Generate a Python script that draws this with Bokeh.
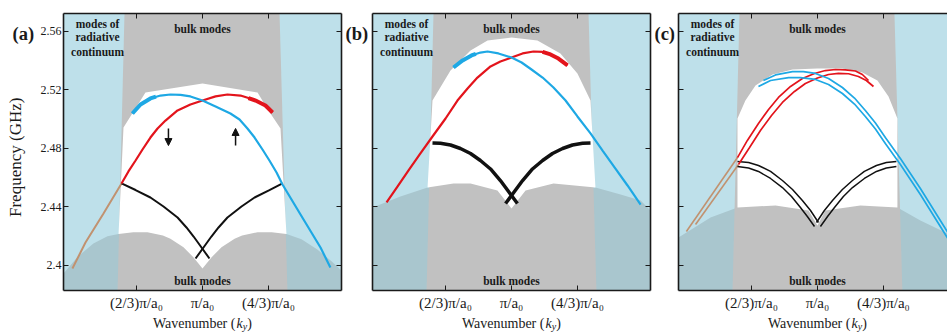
import math
from bokeh.plotting import figure
from bokeh.models import (Range1d, FixedTicker, CustomJSTickFormatter, LinearAxis,
                          Label, Arrow, NormalHead)
from bokeh.layouts import row, column
from bokeh.embed import file_html
from bokeh.resources import INLINE

# ---------------- axes ----------------
K_RANGE = (0.298, 1.702)          # wavenumber in units of pi/a0
K_RANGE_C = (0.298, 1.657)        # panel (c) is cut at the page edge
F_RANGE = (2.3829, 2.5723)        # GHz
x_ticks = [2 / 3, 1.0, 4 / 3]
x_tick_labels = ["(2/3)π/a₀", "π/a₀", "(4/3)π/a₀"]
y_ticks = [2.40, 2.44, 2.48, 2.52, 2.56]
y_tick_labels = ["2.4", "2.44", "2.48", "2.52", "2.56"]

# projected bulk band (gray) edges, shared by all panels
band_f = [2.5723, 2.3829]
band_left_k = [0.606, 0.571]
band_right_k = [1.389, 1.429]

# ---------------- panel (a) ----------------
hill_a_k = [0.298, 0.37, 0.449, 0.52, 0.576, 0.65, 0.722, 0.80, 0.838, 0.904, 0.955, 1.0,
            1.045, 1.096, 1.162, 1.20, 1.278, 1.35, 1.424, 1.50, 1.58, 1.65, 1.702]
hill_a_f = [2.3945, 2.406, 2.415, 2.420, 2.4215, 2.4228, 2.4228, 2.4205, 2.4183, 2.4125, 2.4055, 2.3979,
            2.4055, 2.4125, 2.4183, 2.4205, 2.4228, 2.4228, 2.4215, 2.418, 2.411, 2.403, 2.3966]
gap_a_top_k = [0.601, 0.712, 1.0, 1.278, 1.333, 1.394]
gap_a_top_f = [2.4944, 2.5183, 2.5244, 2.5183, 2.5060, 2.4937]

brown_a_k = [0.343, 0.409, 0.500, 0.591]
brown_a_f = [2.3979, 2.4157, 2.4356, 2.4561]
red_a_k = [0.591, 0.626, 0.662, 0.697, 0.737, 0.773, 0.813, 0.874, 0.939, 1.0, 1.066, 1.126, 1.192,
           1.232, 1.268, 1.318, 1.354]
red_a_f = [2.4561, 2.4643, 2.4718, 2.4793, 2.4875, 2.4937, 2.4991, 2.5060, 2.5101, 2.5128, 2.5156, 2.5169,
           2.5162, 2.5145, 2.5128, 2.5094, 2.5046]
red_a_thick_k = [1.232, 1.268, 1.318, 1.354]
red_a_thick_f = [2.5145, 2.5128, 2.5094, 2.5046]
blue_a_k = [0.646, 0.687, 0.737, 0.788, 0.838, 0.889, 0.939, 1.0, 1.066, 1.141, 1.187, 1.227, 1.263,
            1.303, 1.338, 1.374, 1.404, 1.495, 1.596, 1.646]
blue_a_f = [2.5039, 2.5101, 2.5142, 2.5162, 2.5169, 2.5166, 2.5156, 2.5128, 2.5087, 2.5039, 2.4998, 2.4937,
            2.4875, 2.4793, 2.4718, 2.4636, 2.4554, 2.4349, 2.4123, 2.3986]
blue_a_thick_k = [0.646, 0.687, 0.737, 0.765]
blue_a_thick_f = [2.5039, 2.5101, 2.5142, 2.5155]
black_a1_k = [0.591, 0.662, 0.737, 0.803, 0.874, 0.919, 0.955, 0.995, 1.035]
black_a1_f = [2.4561, 2.4516, 2.4465, 2.4403, 2.4328, 2.4260, 2.4198, 2.4123, 2.4048]
black_a2_k = [1.404, 1.338, 1.263, 1.197, 1.126, 1.081, 1.045, 1.005, 0.965]
black_a2_f = [2.4561, 2.4516, 2.4465, 2.4403, 2.4328, 2.4260, 2.4198, 2.4123, 2.4048]
arrow_k = [0.828, 1.167]
arrow_f_from = [2.4937, 2.4820]
arrow_f_to = [2.4820, 2.4937]

# ---------------- panel (b) ----------------
hill_b_k = [0.298, 0.439, 0.576, 0.707, 0.793, 0.929, 1.0, 1.071, 1.212, 1.424, 1.551, 1.652, 1.702]
hill_b_f = [2.4397, 2.4472, 2.4533, 2.4561, 2.4561, 2.4513, 2.4390, 2.4513, 2.4561, 2.4533, 2.4485, 2.4444, 2.4376]
gap_b_top_k = [0.601, 0.692, 0.793, 0.879, 1.0, 1.131, 1.247, 1.333, 1.399]
gap_b_top_f = [2.5128, 2.5333, 2.5470, 2.5538, 2.5559, 2.5538, 2.5450, 2.5313, 2.5128]

red_b_k = [0.369, 0.424, 0.480, 0.540, 0.601, 0.667, 0.727, 0.778, 0.828, 0.894, 0.944, 1.0, 1.056,
           1.111, 1.157, 1.197, 1.237, 1.283]
red_b_f = [2.4431, 2.4540, 2.4650, 2.4766, 2.4882, 2.5005, 2.5128, 2.5210, 2.5285, 2.5361, 2.5395, 2.5422,
           2.5450, 2.5463, 2.5460, 2.5443, 2.5415, 2.5368]
red_b_thick_k = [1.157, 1.197, 1.237, 1.283]
red_b_thick_f = [2.5460, 2.5443, 2.5415, 2.5368]
blue_b_k = [0.707, 0.753, 0.798, 0.843, 0.879, 0.934, 1.0, 1.051, 1.101, 1.157, 1.212, 1.273, 1.333,
            1.399, 1.460, 1.525, 1.586, 1.652]
blue_b_f = [2.5354, 2.5402, 2.5436, 2.5456, 2.5463, 2.5450, 2.5422, 2.5388, 2.5340, 2.5285, 2.5217, 2.5128,
            2.5019, 2.4903, 2.4786, 2.4663, 2.4547, 2.4417]
blue_b_thick_k = [0.707, 0.753, 0.798, 0.82]
blue_b_thick_f = [2.5354, 2.5402, 2.5436, 2.5447]
black_b1_k = [0.601, 0.641, 0.692, 0.742, 0.793, 0.843, 0.894, 0.944, 0.985, 1.030]
black_b1_f = [2.4838, 2.4836, 2.4824, 2.4800, 2.4766, 2.4718, 2.4660, 2.4581, 2.4506, 2.4424]
black_b2_k = [1.399, 1.359, 1.308, 1.258, 1.207, 1.157, 1.106, 1.056, 1.015, 0.970]
black_b2_f = [2.4838, 2.4836, 2.4824, 2.4800, 2.4766, 2.4718, 2.4660, 2.4581, 2.4506, 2.4424]

# ---------------- panel (c) ----------------
hill_c_k = [0.298, 0.460, 0.596, 0.788, 0.955, 1.0, 1.040, 1.217, 1.404, 1.520, 1.657, 1.702]
hill_c_f = [2.4191, 2.4328, 2.4397, 2.4410, 2.4376, 2.4274, 2.4376, 2.4410, 2.4397, 2.4308, 2.4219, 2.4185]
gap_c_top_k = [0.596, 0.636, 0.687, 0.773, 0.874, 1.0, 1.126, 1.227, 1.303, 1.359, 1.404]
gap_c_top_f = [2.5005, 2.5128, 2.5231, 2.5306, 2.5340, 2.5347, 2.5347, 2.5320, 2.5265, 2.5156, 2.5005]

brown_c1_k = [0.338, 0.596]
brown_c1_f = [2.4232, 2.4738]
brown_c2_k = [0.384, 0.601]
brown_c2_f = [2.4280, 2.4691]
red_c1_k = [0.596, 0.646, 0.702, 0.753, 0.803, 0.864, 0.924, 0.985, 1.040, 1.091, 1.141, 1.192, 1.227, 1.258]
red_c1_f = [2.4738, 2.4855, 2.4971, 2.5067, 2.5149, 2.5224, 2.5279, 2.5313, 2.5333, 2.5340, 2.5338, 2.5330,
            2.5306, 2.5265]
red_c2_k = [0.601, 0.657, 0.712, 0.768, 0.823, 0.884, 0.939, 1.0, 1.056, 1.106, 1.157, 1.207, 1.247, 1.283]
red_c2_f = [2.4691, 2.4807, 2.4923, 2.5026, 2.5115, 2.5190, 2.5244, 2.5282, 2.5306, 2.5313, 2.5311, 2.5292,
            2.5265, 2.5224]
blue_c1_k = [0.727, 0.788, 0.874, 0.929, 0.990, 1.056, 1.126, 1.187, 1.242, 1.293, 1.343, 1.419, 1.520,
             1.646, 1.722]
blue_c1_f = [2.5265, 2.5303, 2.5326, 2.5326, 2.5313, 2.5279, 2.5217, 2.5145, 2.5060, 2.4974, 2.4875, 2.4732,
             2.4526, 2.4253, 2.4089]
blue_c2_k = [0.702, 0.763, 0.854, 0.914, 0.990, 1.056, 1.126, 1.187, 1.242, 1.293, 1.343, 1.419, 1.520,
             1.646, 1.722]
blue_c2_f = [2.5224, 2.5265, 2.5285, 2.5285, 2.5272, 2.5238, 2.5176, 2.5104, 2.5019, 2.4933, 2.4834, 2.4691,
             2.4485, 2.4212, 2.4048]
black_c1_k = [0.596, 0.652, 0.702, 0.763, 0.823, 0.874, 0.924, 0.965, 1.005]
black_c1_f = [2.4711, 2.4704, 2.4684, 2.4643, 2.4581, 2.4520, 2.4444, 2.4376, 2.4294]
black_c2_k = [0.596, 0.652, 0.702, 0.763, 0.823, 0.869, 0.914, 0.949, 0.985]
black_c2_f = [2.4677, 2.4667, 2.4643, 2.4595, 2.4533, 2.4472, 2.4397, 2.4335, 2.4267]
black_c3_k = [1.399, 1.348, 1.298, 1.237, 1.177, 1.126, 1.076, 1.035, 0.995]
black_c3_f = [2.4711, 2.4704, 2.4684, 2.4643, 2.4581, 2.4520, 2.4444, 2.4376, 2.4294]
black_c4_k = [1.399, 1.348, 1.298, 1.237, 1.177, 1.131, 1.086, 1.051, 1.015]
black_c4_f = [2.4677, 2.4667, 2.4643, 2.4595, 2.4533, 2.4472, 2.4397, 2.4335, 2.4267]

# text positions (data units)
rad_text = ["modes of", "radiative", "continuum"]
rad_text_k = 0.47
rad_text_f = [2.5648, 2.5559, 2.5463]
bulk_top_f = 2.5614
bulk_bot_f = 2.3897

# ---------------- styles / layout ----------------
SKY = "#bee0ea"
GRAY = "#c1c1c1"
OVER = "#a9c6ce"
RED = "#e3141c"
BLUE = "#1ea8e4"
BROWN = "#c19270"
BLACK = "#111111"
INK = "#1a1a1a"
SERIF = "Liberation Serif"
FRAME_H = 277
TOP_B = 13
BOT_B = 24
ROW_H = TOP_B + FRAME_H + BOT_B      # 314
XT_H = 332 - ROW_H                   # strip for the x titles
PAGE_W = 947
panel_centers_px = [202, 511, 817]   # where k = pi/a0 sits on the page

FMT_CODE = ("for (let i = 0; i < tvals.length; i++) { if (Math.abs(tick - tvals[i]) < 1e-6) return tlabs[i]; } "
            "return '';")


def style_axis(ax, show_labels, size="14px"):
    ax.major_tick_in = 5
    ax.major_tick_out = 0
    ax.minor_tick_in = 0
    ax.minor_tick_out = 0
    ax.minor_tick_line_color = None
    ax.axis_line_width = 1.6
    ax.axis_line_color = INK
    ax.major_tick_line_color = INK
    ax.major_tick_line_width = 1
    if show_labels:
        ax.major_label_text_font = SERIF
        ax.major_label_text_font_size = size
        ax.major_label_text_color = INK
    else:
        ax.formatter = CustomJSTickFormatter(code="return '';")
        ax.major_label_text_font_size = "1px"
        ax.major_label_standoff = 0


def text_strip(width, height):
    """A blank figure whose data units are page pixels (y up), used only to hold texts."""
    s = figure(width=width, height=height, x_range=Range1d(0, width), y_range=Range1d(0, height),
               output_backend="svg", toolbar_location=None, x_axis_type=None, y_axis_type=None,
               min_border=0, outline_line_color=None, background_fill_color="white",
               border_fill_color="white")
    s.grid.visible = False
    return s


def make_panel(frame_w, left, right, xr, first, has_right):
    p = figure(frame_width=frame_w, frame_height=FRAME_H, x_range=Range1d(*xr), y_range=Range1d(*F_RANGE),
               output_backend="svg", toolbar_location=None, min_border_left=left, min_border_right=right,
               min_border_top=TOP_B, min_border_bottom=BOT_B, background_fill_color=SKY,
               outline_line_color=None, border_fill_color="white")
    p.grid.visible = False
    p.xaxis.ticker = FixedTicker(ticks=x_ticks)
    p.xaxis.formatter = CustomJSTickFormatter(args=dict(tvals=x_ticks, tlabs=x_tick_labels), code=FMT_CODE)
    style_axis(p.xaxis[0], True, "15px")
    p.xaxis.major_label_standoff = 4
    p.yaxis.ticker = FixedTicker(ticks=y_ticks)
    if first:
        p.yaxis.formatter = CustomJSTickFormatter(args=dict(tvals=y_ticks, tlabs=y_tick_labels), code=FMT_CODE)
    style_axis(p.yaxis[0], first, "12px")
    if first:
        p.yaxis.major_label_standoff = 2
    top = LinearAxis(ticker=FixedTicker(ticks=x_ticks))
    style_axis(top, False)
    p.add_layout(top, "above")
    if has_right:
        r = LinearAxis(ticker=FixedTicker(ticks=y_ticks))
        style_axis(r, False)
        p.add_layout(r, "right")
    return p


def backgrounds(p, hill_k, hill_f, gap_k, gap_f):
    p.varea(x=hill_k, y1=F_RANGE[0] - 0.01, y2=hill_f, fill_color=OVER)
    p.patch(x=band_left_k + band_right_k[::-1], y=band_f + band_f[::-1], fill_color=GRAY, line_color=None)
    bot = [(k, f) for k, f in zip(hill_k, hill_f) if 0.57 <= k <= 1.43]
    xs = gap_k + [k for k, f in bot[::-1]]
    ys = gap_f + [f for k, f in bot[::-1]]
    p.patch(x=xs, y=ys, fill_color="white", line_color=None)


def texts(p):
    for t, f in zip(rad_text, rad_text_f):
        p.add_layout(Label(x=rad_text_k, y=f, text=t, text_font=SERIF, text_font_style="bold",
                           text_font_size="11.5px", text_align="center", text_baseline="middle", text_color=INK))
    for f in (bulk_top_f, bulk_bot_f):
        p.add_layout(Label(x=1.0, y=f, text="bulk modes", text_font=SERIF, text_font_style="bold",
                           text_font_size="11.5px", text_align="center", text_baseline="middle", text_color=INK))


def letter(strip, text, x_px):
    strip.add_layout(Label(x=x_px, y=ROW_H - TOP_B + 1, text=text, text_font=SERIF, text_font_style="bold",
                           text_font_size="18.5px", text_baseline="top", text_align="left", text_color=INK))


# ---------------- (a) ----------------
sa = text_strip(35, ROW_H)
letter(sa, "(a)", 12)
sa.add_layout(Label(x=15, y=ROW_H - 163, angle=math.pi / 2, text="Frequency (GHz)", text_font=SERIF,
                    text_font_size="17px", text_align="center", text_baseline="middle", text_color=INK))
pa = make_panel(278, 28, 4, K_RANGE, True, True)
backgrounds(pa, hill_a_k, hill_a_f, gap_a_top_k, gap_a_top_f)
pa.line(brown_a_k, brown_a_f, line_color=BROWN, line_width=2)
pa.line(black_a1_k, black_a1_f, line_color=BLACK, line_width=2)
pa.line(black_a2_k, black_a2_f, line_color=BLACK, line_width=2)
pa.line(red_a_k, red_a_f, line_color=RED, line_width=2.2)
pa.line(red_a_thick_k, red_a_thick_f, line_color=RED, line_width=4)
pa.line(blue_a_k, blue_a_f, line_color=BLUE, line_width=2.2)
pa.line(blue_a_thick_k, blue_a_thick_f, line_color=BLUE, line_width=4)
for k, f0, f1 in zip(arrow_k, arrow_f_from, arrow_f_to):
    pa.add_layout(Arrow(end=NormalHead(size=7, fill_color=BLACK, line_color=BLACK),
                        x_start=k, y_start=f0, x_end=k, y_end=f1, line_width=1.5, line_color=BLACK))
texts(pa)

# ---------------- (b) ----------------
sb = text_strip(23, ROW_H)
letter(sb, "(b)", 0)
pb = make_panel(278, 4, 4, K_RANGE, False, True)
backgrounds(pb, hill_b_k, hill_b_f, gap_b_top_k, gap_b_top_f)
pb.line(black_b1_k, black_b1_f, line_color=BLACK, line_width=3.5)
pb.line(black_b2_k, black_b2_f, line_color=BLACK, line_width=3.5)
pb.line(red_b_k, red_b_f, line_color=RED, line_width=2.2)
pb.line(red_b_thick_k, red_b_thick_f, line_color=RED, line_width=4)
pb.line(blue_b_k, blue_b_f, line_color=BLUE, line_width=2.2)
pb.line(blue_b_thick_k, blue_b_thick_f, line_color=BLUE, line_width=4)
texts(pb)

# ---------------- (c) ----------------
sc = text_strip(21, ROW_H)
letter(sc, "(c)", 0)
pc = make_panel(269, 3, 0, K_RANGE_C, False, False)
backgrounds(pc, hill_c_k, hill_c_f, gap_c_top_k, gap_c_top_f)
for kk, ff in ((brown_c1_k, brown_c1_f), (brown_c2_k, brown_c2_f)):
    pc.line(kk, ff, line_color=BROWN, line_width=1.6)
for kk, ff in ((black_c1_k, black_c1_f), (black_c2_k, black_c2_f), (black_c3_k, black_c3_f), (black_c4_k, black_c4_f)):
    pc.line(kk, ff, line_color=BLACK, line_width=1.5)
for kk, ff in ((red_c1_k, red_c1_f), (red_c2_k, red_c2_f)):
    pc.line(kk, ff, line_color=RED, line_width=1.7)
for kk, ff in ((blue_c1_k, blue_c1_f), (blue_c2_k, blue_c2_f)):
    pc.line(kk, ff, line_color=BLUE, line_width=1.7)
texts(pc)

# ---------------- x titles "Wavenumber (k_y)" ----------------
xt = text_strip(PAGE_W, XT_H)
base_y = XT_H - 9
for cx in panel_centers_px:
    xt.add_layout(Label(x=cx - 49.5, y=base_y, text="Wavenumber (", text_font=SERIF, text_font_size="14px",
                        text_baseline="alphabetic", text_align="left", text_color=INK))
    xt.add_layout(Label(x=cx + 34.1, y=base_y, text="k", text_font=SERIF, text_font_style="italic",
                        text_font_size="14px", text_baseline="alphabetic", text_align="left", text_color=INK))
    xt.add_layout(Label(x=cx + 40.3, y=base_y - 3, text="y", text_font=SERIF, text_font_style="italic",
                        text_font_size="10px", text_baseline="alphabetic", text_align="left", text_color=INK))
    xt.add_layout(Label(x=cx + 44.7, y=base_y, text=")", text_font=SERIF, text_font_size="14px",
                        text_baseline="alphabetic", text_align="left", text_color=INK))

layout = column(row(sa, pa, sb, pb, sc, pc, spacing=0), xt, spacing=0)
open("out.html", "w").write(file_html(layout, INLINE))
